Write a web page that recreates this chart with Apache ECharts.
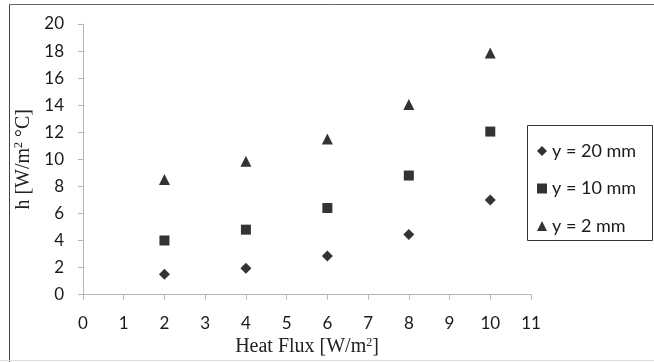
<!DOCTYPE html>
<html><head><meta charset="utf-8">
<script src="https://cdn.jsdelivr.net/npm/echarts@6/dist/echarts.min.js"></script>
<style>html,body{margin:0;padding:0;background:#fff}#c{width:654px;height:362px}</style>
</head><body><div id="c"></div>
<script>
const heatFlux = [2, 4, 6, 8, 10];
const y20mm = [1.5, 1.95, 2.85, 4.45, 7.0];
const y10mm = [4.0, 4.8, 6.4, 8.8, 12.05];
const y2mm = [8.5, 9.85, 11.5, 14.05, 17.85];
const seriesNames = ['y = 20 mm', 'y = 10 mm', 'y = 2 mm'];
const xTickRange = [0, 11];
const yTickRange = [0, 20];

const chart = echarts.init(document.getElementById('c'), null, {renderer: 'canvas'});
const pairs = v => heatFlux.map((x, i) => [x, v[i]]);
const tickFont = {fontFamily: 'Lato', fontSize: 17, color: '#1a1a1a'};
const axisLineStyle = {color: '#b7b7b7', width: 1};
const nameStyle = {fontFamily: 'Liberation Serif', fontSize: 20, color: '#222',
  rich: {s: {fontFamily: 'Liberation Serif', fontSize: 12, color: '#222', padding: [0, 0, 9, 0]}}};
chart.setOption({
  animation: false,
  backgroundColor: '#fff',
  grid: {left: 83, right: 123, top: 24, bottom: 65},
  xAxis: {
    type: 'value', min: xTickRange[0], max: xTickRange[1], interval: 1,
    axisLine: {show: true, onZero: false, lineStyle: axisLineStyle},
    axisTick: {show: true, length: 5, lineStyle: axisLineStyle},
    splitLine: {show: false},
    axisLabel: Object.assign({margin: 20}, tickFont),
    name: 'Heat Flux [W/m{s|2}]', nameLocation: 'middle', nameGap: 40,
    nameTextStyle: nameStyle
  },
  yAxis: {
    type: 'value', min: yTickRange[0], max: yTickRange[1], interval: 2,
    axisLine: {show: true, lineStyle: axisLineStyle},
    axisTick: {show: true, length: 5, lineStyle: axisLineStyle},
    splitLine: {show: false},
    axisLabel: Object.assign({margin: 19}, tickFont),
    name: 'h [W/m{s|2} °C]', nameLocation: 'middle', nameGap: 43,
    nameTextStyle: nameStyle
  },
  legend: {
    orient: 'vertical', left: 532, top: 137, itemGap: 19.5,
    itemWidth: 10, itemHeight: 10,
    textStyle: {fontFamily: 'Lato', fontSize: 18, color: '#1a1a1a'},
    data: seriesNames.map((n, i) => ({name: n, icon: ['diamond', 'rect', 'triangle'][i]}))
  },
  graphic: [
    {type: 'rect', silent: true, shape: {x: 527.5, y: 125.5, width: 125, height: 115}, style: {fill: 'none', stroke: '#333', lineWidth: 1}},
    {type: 'line', silent: true, shape: {x1: 9.5, y1: 4.5, x2: 654, y2: 4.5}, style: {stroke: '#666', lineWidth: 1}},
    {type: 'line', silent: true, shape: {x1: 9.5, y1: 4.5, x2: 9.5, y2: 362}, style: {stroke: '#444', lineWidth: 1}},
    {type: 'line', silent: true, shape: {x1: 0, y1: 360.5, x2: 654, y2: 360.5}, style: {stroke: '#ddd', lineWidth: 1}}
  ],
  series: [
    {name: seriesNames[0], type: 'scatter', symbol: 'diamond', symbolSize: 11, itemStyle: {color: '#000'}, data: pairs(y20mm)},
    {name: seriesNames[1], type: 'scatter', symbol: 'rect', symbolSize: 10, itemStyle: {color: '#000'}, data: pairs(y10mm)},
    {name: seriesNames[2], type: 'scatter', symbol: 'triangle', symbolSize: 11, itemStyle: {color: '#000'}, data: pairs(y2mm)}
  ]
});
</script></body></html>
